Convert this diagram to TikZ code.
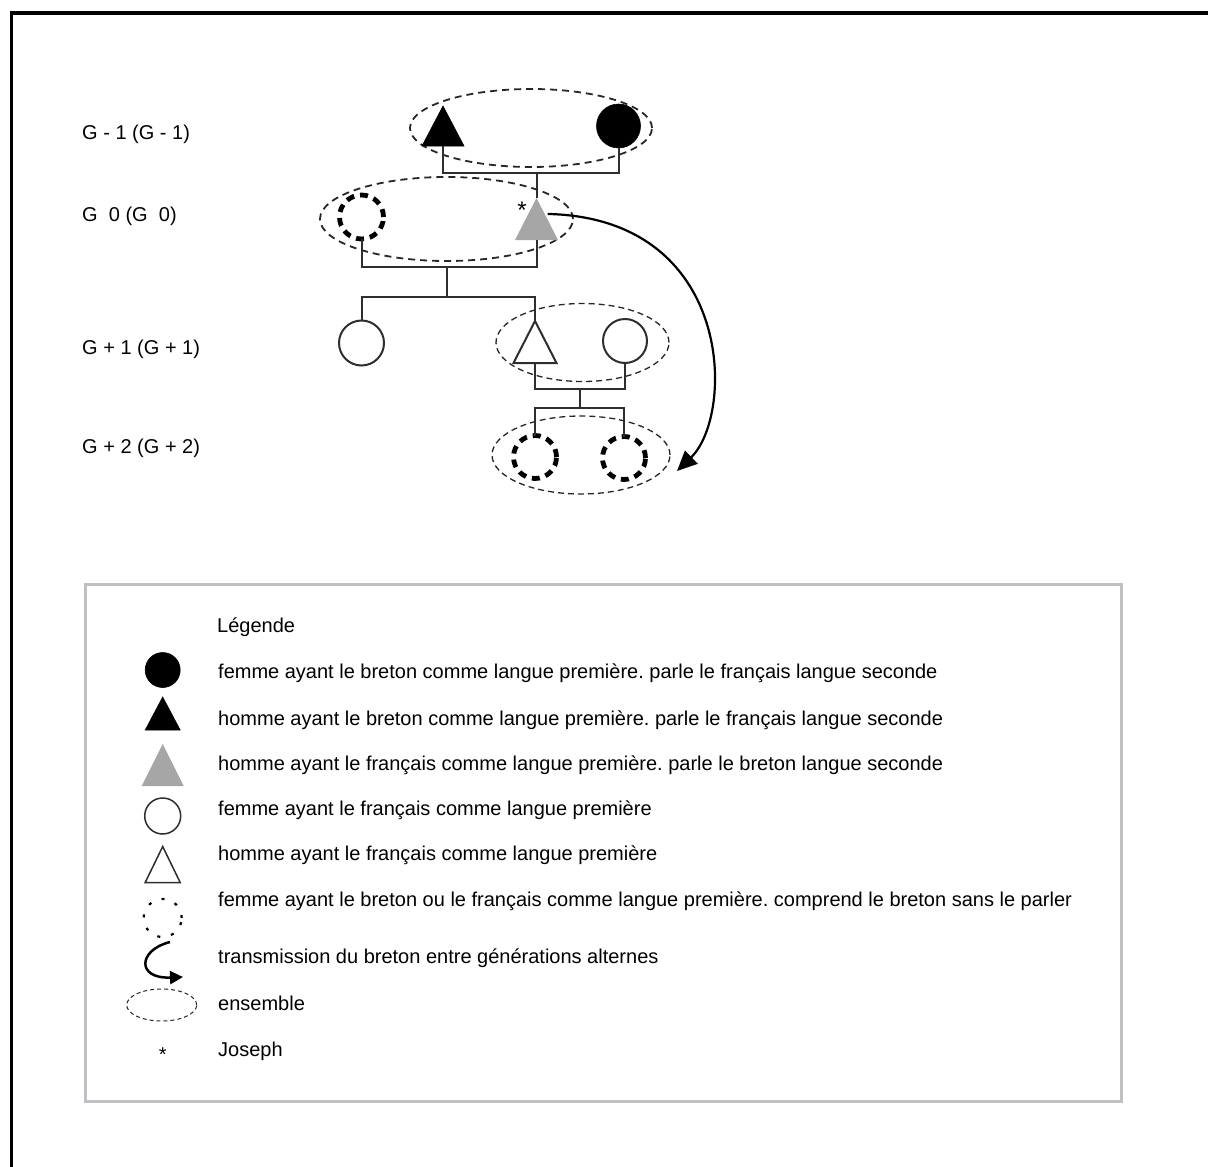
\documentclass[tikz,border=0pt]{standalone}
\usepackage{fontspec}
\setmainfont{Liberation Sans}
\usetikzlibrary{shapes.geometric,arrows.meta,calc}
\definecolor{lgray}{HTML}{C0C0C4}
\definecolor{tgray}{HTML}{A6A6A6}
\definecolor{lk}{HTML}{2E2E2E}
\frenchspacing
\begin{document}
\begin{tikzpicture}[x=1pt,y=-1pt,
  person/.style={inner sep=0pt,outer sep=0pt},
  circ/.style={person,circle,minimum size=#1},
  tri/.style n args={2}{person,isosceles triangle,isosceles triangle stretches,
     shape border rotate=90,minimum width=#1,minimum height=#2},
  blackp/.style={fill=black,draw=black,line width=0.6pt},
  grayp/.style={fill=tgray,draw=none},
  whitep/.style={fill=white,draw=lk,line width=2pt},
  dashp/.style={draw=black,line width=4.8pt,dash pattern=on 8pt off 6pt},
  ens/.style={person,ellipse,draw=black!85,minimum width=#1},
  ensA/.style={line width=1.8pt,dash pattern=on 7pt off 5pt},
  ensB/.style={line width=1.3pt,dash pattern=on 6pt off 4pt},
  link/.style={draw=lk,line width=2pt},
  lbl/.style={inner sep=0pt,anchor=base west,font=\fontsize{20}{24}\selectfont},
  trans/.style={line width=2.2pt,-{Triangle[length=20pt,width=18pt]}}
]
\useasboundingbox (0,0) rectangle (1208,1167);
% outer frame
\draw[line width=3.5pt,line join=miter] (1210,13) -- (11.5,13) -- (11.5,1170);

% generation labels
\node[lbl] (g1) at (82,139.5) {G - 1 (G - 1)};
\node[lbl] (g2) at (82,221.5) {G\ \ 0 (G\ \ 0)};
\node[lbl] (g3) at (82,354.5) {G + 1 (G + 1)};
\node[lbl] (g4) at (82,453.5) {G + 2 (G + 2)};

% ensembles
\node[ens=242pt,minimum height=78pt,ensA] (E1) at (531,128) {};
\node[ens=253pt,minimum height=84pt,ensA] (E0) at (446.5,219) {};
\node[ens=173pt,minimum height=78pt,ensB] (E2) at (582.5,342.5) {};
\node[ens=178pt,minimum height=78pt,ensB] (E3) at (581,455) {};

% persons
\node[tri={42pt}{40pt},blackp,anchor=apex] (A) at (443,106) {};
\node[circ=44pt,blackp] (B) at (618.5,126) {};
\node[tri={43pt}{42pt},grayp,anchor=apex] (C) at (536.5,198) {};
\node[circ=44pt,dashp] (D) at (361.5,217) {};
\node[circ=45pt,whitep] (Eg) at (361.5,343) {};
\node[tri={43pt}{42pt},whitep,anchor=apex] (F) at (535,321) {};
\node[circ=44pt,whitep] (G) at (625,341) {};
\node[circ=43pt,dashp] (H) at (535,457) {};
\node[circ=43pt,dashp] (I) at (624,458) {};

\node[inner sep=0pt,anchor=base,font=\fontsize{24}{28}\selectfont] (star) at (522,218) {*};

% junctions
\coordinate (j1) at (536.5,173);
\coordinate (j2) at (447,267);
\coordinate (j3) at (447,297);
\coordinate (j4) at (580,389);
\coordinate (j5) at (580,408);

\draw[link] (A.south) |- (j1) -| (B.south);
\draw[link] (j1) -- (C.apex);
\draw[link] (D.south) |- (j2) -| (C.south);
\draw[link] (j2) -- (j3);
\draw[link] (Eg.north) |- (j3) -| (F.apex);
\draw[link] (F.south) |- (j4) -| (G.south);
\draw[link] (j4) -- (j5);
\draw[link] (H.north) |- (j5) -| (I.north);

% transmission arrow
\coordinate (cs) at ($(C.apex)!0.38!(C.right corner)+(3,0)$);
\coordinate (tip) at (677,471);
\draw[trans] (cs) .. controls (735,218) and (735,415) .. (tip);

% legend
\draw[lgray,line width=3pt] (85.5,584.5) rectangle (1121,1101.5);
\node[lbl] (t0) at (217,632.5) {Légende};
\node[tri={35pt}{33pt},blackp,anchor=apex] (s2) at (162.7,697) {};
\node[circ=35pt,blackp] (s1) at (162.7,670) {};
\node[lbl] (t1) at (218,678.3) {femme ayant le breton comme langue première. parle le français langue seconde};
\node[lbl] (t2) at (218,725) {homme ayant le breton comme langue première. parle le français langue seconde};
\node[tri={42pt}{42pt},grayp,anchor=apex] (s3) at (162.7,744) {};
\node[lbl] (t3) at (218,770) {homme ayant le français comme langue première. parle le breton langue seconde};
\node[circ=36pt,whitep,line width=1.5pt] (s4) at (162.7,816) {};
\node[lbl] (t4) at (218,815) {femme ayant le français comme langue première};
\node[tri={35pt}{36pt},whitep,line width=1.5pt,anchor=apex] (s5) at (162.7,846.5) {};
\node[lbl] (t5) at (218,860.7) {homme ayant le français comme langue première};
\node[circ=38pt,draw=black,line width=2.2pt,dash pattern=on 3pt off 11pt] (s6) at (162.7,918) {};
\node[lbl] (t6) at (218,906.7) {femme ayant le breton ou le français comme langue première. comprend le breton sans le parler};
\coordinate (la) at (170,942);
\coordinate (lb) at (183,977);
\draw[line width=2.5pt,-{Triangle[length=13pt,width=13pt]}] (la) .. controls (138,950) and (136,979) .. (lb);
\node[lbl] (t7) at (218,963.3) {transmission du breton entre générations alternes};
\node[ens=70pt,minimum height=32pt,line width=1pt,dash pattern=on 4pt off 3pt] (s8) at (161.7,1005) {};
\node[lbl] (t8) at (218,1010) {ensemble};
\node[inner sep=0pt,anchor=base,font=\fontsize{20}{24}\selectfont] (s9) at (162.7,1061.5) {*};
\node[lbl] (t9) at (218,1056) {Joseph};
\end{tikzpicture}
\end{document}
